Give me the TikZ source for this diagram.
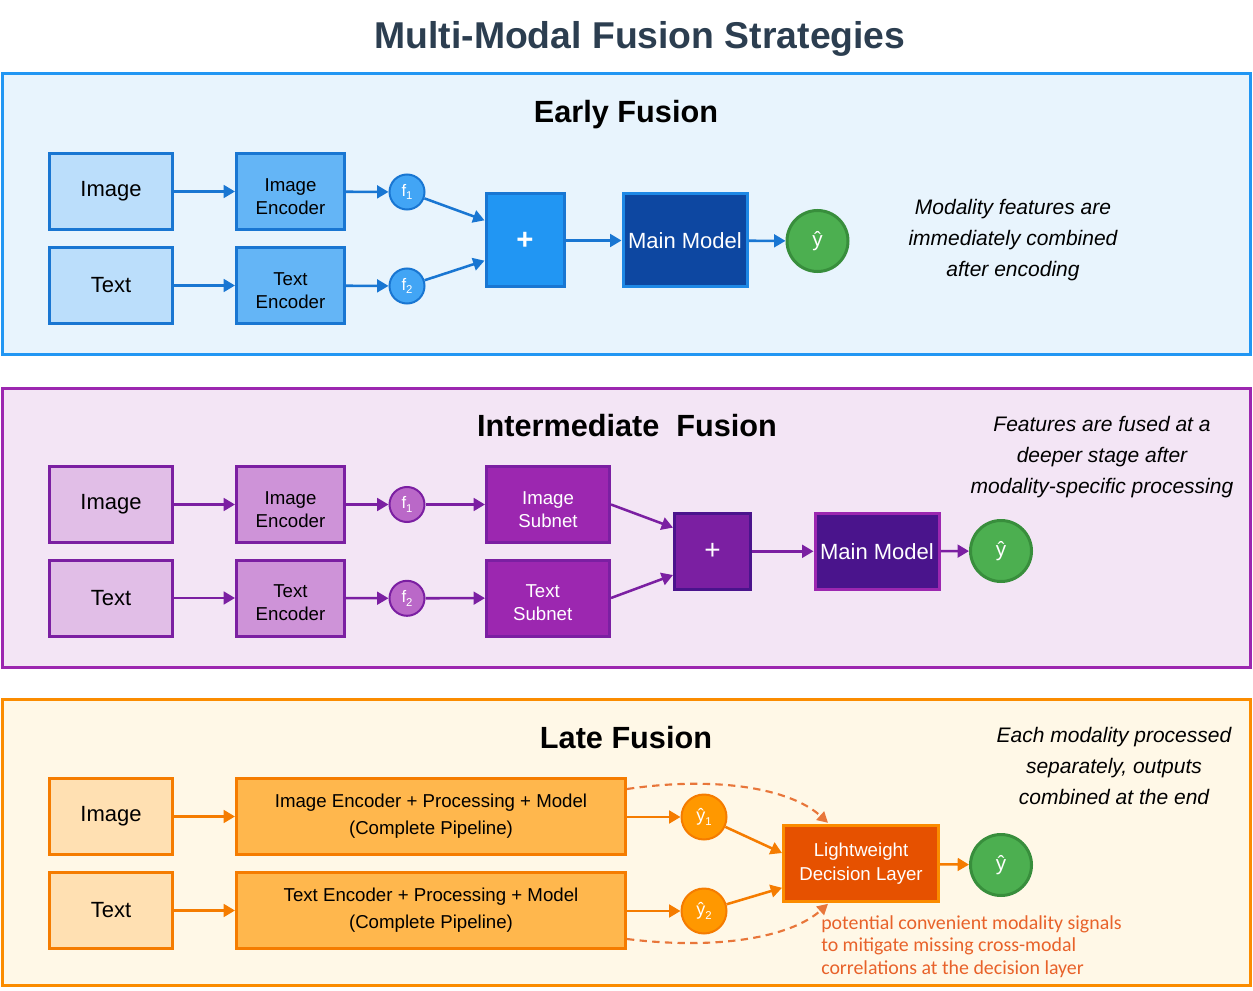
\documentclass[tikz,border=0pt]{standalone}
\usepackage{fontspec}
\setmainfont{Liberation Sans}
\newfontfamily\notefont{Carlito}
\usetikzlibrary{arrows.meta,calc}
\definecolor{titlec}{HTML}{2C3E50}
% early
\definecolor{ebord}{HTML}{2196F3}
\definecolor{ebg}{HTML}{E8F4FD}
\definecolor{ein}{HTML}{BBDEFB}
\definecolor{eline}{HTML}{1976D2}
\definecolor{eenc}{HTML}{64B5F6}
\definecolor{ef}{HTML}{42A5F5}
\definecolor{eplus}{HTML}{2196F3}
\definecolor{emain}{HTML}{0D47A1}
\definecolor{emainb}{HTML}{1E88E5}
% intermediate
\definecolor{ibord}{HTML}{9C27B0}
\definecolor{ibg}{HTML}{F3E5F5}
\definecolor{iin}{HTML}{E1BEE7}
\definecolor{iline}{HTML}{7B1FA2}
\definecolor{ienc}{HTML}{CE93D8}
\definecolor{if}{HTML}{BA68C8}
\definecolor{isub}{HTML}{9C27B0}
\definecolor{iplus}{HTML}{7B1FA2}
\definecolor{iplusb}{HTML}{4A148C}
\definecolor{imain}{HTML}{4A148C}
% late
\definecolor{lbord}{HTML}{FB8C00}
\definecolor{lbg}{HTML}{FFF8E7}
\definecolor{lin}{HTML}{FFE0B2}
\definecolor{lline}{HTML}{F57C00}
\definecolor{lpipe}{HTML}{FFB74D}
\definecolor{ly}{HTML}{FF9800}
\definecolor{ldec}{HTML}{E65100}
\definecolor{ldash}{HTML}{E8763A}
\definecolor{lnote}{HTML}{E8622A}
% green
\definecolor{gfill}{HTML}{4CAF50}
\definecolor{gbord}{HTML}{388E3C}
\newcommand{\subx}[1]{\raisebox{-0.22em}{\fontsize{8.5}{8.5}\selectfont #1}}
\begin{document}
\begin{tikzpicture}[x=0.75pt,y=-0.75pt,
  bx/.style={rectangle, draw, line width=2.25pt, inner sep=0pt, align=center, minimum height=57pt},
  inbox/.style={bx, minimum width=92.25pt, font=\fontsize{16.5}{20}\selectfont},
  encbox/.style={bx, minimum width=81pt},
  twol/.style={align=center, inner sep=0pt, yshift=-3.75pt, font=\fontsize{14}{17.25}\selectfont},
  fc/.style={circle, draw, line width=1.5pt, inner sep=0pt, minimum size=26.25pt, text=white, font=\fontsize{12.5}{12.5}\selectfont},
  yc/.style={circle, draw=gbord, fill=gfill, line width=2.25pt, inner sep=0pt, minimum size=45.75pt, text=white, font=\fontsize{15.5}{15.5}\selectfont},
  arr/.style={line width=1.9pt, -{Triangle[length=8.5pt,width=9.5pt]}},
  dasharr/.style={ldash, line width=1.6pt, dash pattern=on 5.5pt off 4pt, -{Triangle[length=8pt,width=8.5pt]}},
  note/.style={align=center, font=\fontsize{15.75}{23.25}\selectfont\itshape},
  sectitle/.style={anchor=base, font=\fontsize{23}{27}\selectfont\bfseries},
  panel/.style={line width=2.25pt}]
\useasboundingbox (0,0) rectangle (1253,991);
\fill[white] (0,0) rectangle (1253,991);

% title
\node[anchor=base, text=titlec, font=\fontsize{28}{32}\selectfont\bfseries] (title) at (640,49) {Multi-Modal Fusion Strategies};

% ================= Early Fusion
\draw[panel, draw=ebord, fill=ebg] (2,74) rectangle (1250,354);
\node[sectitle] (etitle) at (626,123) {Early Fusion};
\node[inbox, draw=eline, fill=ein] (e_img) at (111,191.5) {Image};
\node[inbox, draw=eline, fill=ein] (e_txt) at (111,285.5) {Text};
\node[encbox, draw=eline, fill=eenc] (e_ienc) at (290.5,191.5) {};
\node[twol] (e_ienc_t) at (e_ienc) {Image\\Encoder};
\node[encbox, draw=eline, fill=eenc] (e_tenc) at (290.5,285.5) {};
\node[twol] (e_tenc_t) at (e_tenc) {Text\\Encoder};
\node[fc, draw=eline, fill=ef] (e_f1) at (407,192) {f\subx{1}};
\node[fc, draw=eline, fill=ef] (e_f2) at (407,286) {f\subx{2}};
\node[bx, draw=eline, fill=eplus, minimum width=58.5pt, minimum height=69.75pt, text=white, font=\fontsize{22}{22}\selectfont\bfseries] (e_plus) at (525,240.5) {+};
\node[bx, draw=emainb, fill=emain, minimum width=93pt, minimum height=69.75pt, text=white, font=\fontsize{16.5}{20}\selectfont] (e_main) at (685,240.5) {Main Model};
\node[yc] (e_y) at (817.5,241) {ŷ};
\node[note] (e_note) at (1013,240) {Modality features are\\immediately combined\\after encoding};
\draw[arr, eline] (e_img) -- (e_ienc);
\draw[arr, eline] (e_txt) -- (e_tenc);
\draw[arr, eline] (e_ienc) -- (e_f1);
\draw[arr, eline] (e_tenc) -- (e_f2);
\draw[arr, eline] (e_f1) -- ($(e_plus.north west)!0.29!(e_plus.south west)$);
\draw[arr, eline] (e_f2) -- ($(e_plus.north west)!0.71!(e_plus.south west)$);
\draw[arr, eline] (e_plus) -- (e_main);
\draw[arr, eline] (e_main) -- (e_y);

% ================= Intermediate Fusion
\draw[panel, draw=ibord, fill=ibg] (2,388) rectangle (1250,667);
\node[sectitle] (ititle) at (627,436) {Intermediate\hspace{0.55em}Fusion};
\node[inbox, draw=iline, fill=iin] (i_img) at (111,504.5) {Image};
\node[inbox, draw=iline, fill=iin] (i_txt) at (111,598) {Text};
\node[encbox, draw=iline, fill=ienc] (i_ienc) at (290.5,504.5) {};
\node[twol] (i_ienc_t) at (i_ienc) {Image\\Encoder};
\node[encbox, draw=iline, fill=ienc] (i_tenc) at (290.5,598) {};
\node[twol] (i_tenc_t) at (i_tenc) {Text\\Encoder};
\node[fc, draw=iline, fill=if] (i_f1) at (407,504.5) {f\subx{1}};
\node[fc, draw=iline, fill=if] (i_f2) at (407,598.3) {f\subx{2}};
\node[bx, draw=iline, fill=isub, minimum width=92.25pt] (i_isub) at (548,504.5) {};
\node[twol, text=white] (i_isub_t) at (i_isub) {Image\\Subnet};
\node[bx, draw=iline, fill=isub, minimum width=92.25pt] (i_tsub) at (548,598) {};
\node[twol, text=white, xshift=-4pt] (i_tsub_t) at (i_tsub) {Text\\Subnet};
\node[bx, draw=iplusb, fill=iplus, minimum width=57pt, minimum height=57pt, text=white, font=\fontsize{21}{21}\selectfont] (i_plus) at (712.5,551.3) {+};
\node[bx, draw=ibord, fill=imain, minimum width=93pt, text=white, font=\fontsize{16.5}{20}\selectfont] (i_main) at (877,551.3) {Main Model};
\node[yc] (i_y) at (1001,551) {ŷ};
\node[note] (i_note) at (1102,457) {Features are fused at a\\deeper stage after\\modality-specific processing};
\draw[arr, iline] (i_img) -- (i_ienc);
\draw[arr, iline] (i_txt) -- (i_tenc);
\draw[arr, iline] (i_ienc) -- (i_f1);
\draw[arr, iline] (i_tenc) -- (i_f2);
\draw[arr, iline] (i_f1) -- (i_isub);
\draw[arr, iline] (i_f2) -- (i_tsub);
\draw[arr, iline] (i_isub.east) -- ($(i_plus.north west)!0.2!(i_plus.south west)$);
\draw[arr, iline] (i_tsub.east) -- ($(i_plus.north west)!0.8!(i_plus.south west)$);
\draw[arr, iline] (i_plus) -- (i_main);
\draw[arr, iline] (i_main) -- (i_y);

% ================= Late Fusion
\draw[panel, draw=lbord, fill=lbg] (2,699) rectangle (1250,985);
\node[sectitle] (ltitle) at (626,748) {Late Fusion};
\node[inbox, draw=lline, fill=lin] (l_img) at (111,816.5) {Image};
\node[inbox, draw=lline, fill=lin] (l_txt) at (111,910.5) {Text};
\node[bx, draw=lline, fill=lpipe, minimum width=291.75pt, font=\fontsize{14}{20.25}\selectfont] (l_ipipe) at (431,816.5) {Image Encoder + Processing + Model\\(Complete Pipeline)};
\node[bx, draw=lline, fill=lpipe, minimum width=291.75pt, font=\fontsize{14}{20.25}\selectfont] (l_tpipe) at (431,910.5) {Text Encoder + Processing + Model\\(Complete Pipeline)};
\node[circle, draw=lline, fill=ly, line width=1.5pt, inner sep=0pt, minimum size=33.75pt, text=white, font=\fontsize{13.5}{13.5}\selectfont] (l_y1) at (704,817) {ŷ\subx{1}};
\node[circle, draw=lline, fill=ly, line width=1.5pt, inner sep=0pt, minimum size=33.75pt, text=white, font=\fontsize{13.5}{13.5}\selectfont] (l_y2) at (704,911) {ŷ\subx{2}};
\node[bx, draw=lbord, fill=ldec, minimum width=116.25pt, text=white, font=\fontsize{14}{18}\selectfont] (l_dec) at (861,863.3) {Lightweight\\Decision Layer};
\node[yc] (l_y) at (1001,865) {ŷ};
\node[note] (l_note) at (1114,766) {Each modality processed\\separately, outputs\\combined at the end};
\node[anchor=north west, align=left, inner sep=0pt, text=lnote, font=\notefont\fontsize{14.9}{17}\selectfont] (l_hint) at (821,915) {potential convenient modality signals\\to mitigate missing cross-modal\\correlations at the decision layer};
\draw[arr, lline] (l_img) -- (l_ipipe);
\draw[arr, lline] (l_txt) -- (l_tpipe);
\draw[arr, lline] (l_ipipe.east |- l_y1) -- (l_y1);
\draw[arr, lline] (l_tpipe.east |- l_y2) -- (l_y2);
\draw[arr, lline] (l_y1) -- ($(l_dec.north west)!0.37!(l_dec.south west)$);
\draw[arr, lline] (l_y2) -- ($(l_dec.north west)!0.81!(l_dec.south west)$);
\draw[arr, lline] (l_dec) -- (l_y);
\draw[dasharr] ($(l_ipipe.north east)+(0,12)$) .. controls (715,776) and (790,788) .. ($(l_dec.north west)+(46,-1)$);
\draw[dasharr] ($(l_tpipe.south east)+(0,-11)$) .. controls (715,950) and (790,938) .. ($(l_dec.south west)+(46,1)$);
\end{tikzpicture}
\end{document}
